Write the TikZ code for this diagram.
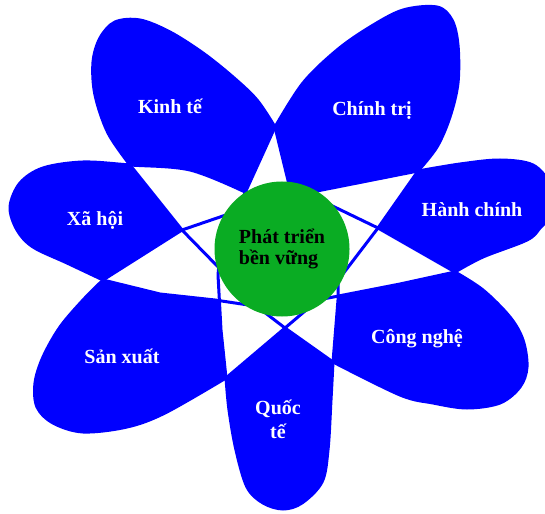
\documentclass[tikz,border=0pt]{standalone}
\usepackage{fontspec}
\setmainfont{Liberation Serif}
\definecolor{petalblue}{RGB}{0,0,255}
\definecolor{coregreen}{RGB}{10,172,35}

%% canh hoa: mui nhon nam trong vong tron giua, dau tron o ngoai
\def\petalkinhte{(305,290) -- (294,205) -- plot[smooth, tension=0.55] coordinates {(275,127) (257,100) (233,77) (203,53) (170,32) (140,20) (115,22) (100,38) (93,62) (95,95) (108,133) (130,165)} -- (182,230) -- (226,275) -- cycle}
\def\petalchinhtri{(275,295) -- (235,215) -- plot[smooth, tension=0.55] coordinates {(275,127) (303,83) (337,50) (370,27) (403,10) (437,7) (452,20) (458,45) (458,83) (450,117) (437,147) (418,171)} -- (378,228) -- (336,283) -- cycle}
\def\petalhanhchinh{(238,240) -- (292,196) -- (322,190) -- plot[smooth, tension=0.55] coordinates {(418,171) (460,164) (500,160) (533,165) (550,185) (552,212) (540,228) (527,240) (483,257) (455,272)} -- (400,284) -- (318,300) -- cycle}
\def\petalcongnghe{(248,215) -- (318,199) -- (378,228) -- plot[smooth, tension=0.55] coordinates {(455,272) (483,290) (510,317) (523,340) (527,367) (520,387) (500,403) (467,408) (433,403) (400,395) (333,362)} -- (285,328) -- (255,305) -- cycle}
\def\petalquocte{(282,200) -- (338,260) -- (338,300) -- plot[smooth, tension=0.55] coordinates {(333,362) (331,400) (328,450) (322,482) (302,503) (283,509) (263,503) (247,487) (236,450) (229,410) (226,378)} -- (221,330) -- (218,275) -- (222,230) -- cycle}
\def\petalsanxuat{(325,225) -- (240,210) -- (220,217) -- (182,230) -- plot[smooth, tension=0.55] coordinates {(103,280) (83,300) (60,327) (43,357) (35,383) (37,407) (53,423) (83,432) (127,427) (165,413) (226,378)} -- (285,328) -- (318,300) -- cycle}
\def\petalxahoi{(330,240) -- (262,200) -- plot[smooth, tension=0.55] coordinates {(245,192) (190,170) (130,165) (83,162) (43,168) (20,183) (10,207) (17,230) (33,247) (67,263) (103,280)} -- (160,294) -- (215,300) -- (255,306) -- cycle}

\begin{document}
\begin{tikzpicture}[
    x=0.5pt, y=-0.5pt,
    every node/.style={font=\fontsize{10}{12}\selectfont\bfseries},
    lbl/.style={text=white, align=center},
    petaledge/.style={draw=petalblue, line width=1.5pt, line join=round},
]
\useasboundingbox (0,0) rectangle (545,513);

%% canh hoa
\foreach \p in {kinhte,chinhtri,hanhchinh,congnghe,quocte,sanxuat,xahoi}
  \fill[petalblue] \csname petal\p\endcsname;

%% phan chong len nhau de trang
\foreach \p [count=\i] in {kinhte,chinhtri,hanhchinh,congnghe,quocte,sanxuat,xahoi}{
  \foreach \q [count=\j] in {kinhte,chinhtri,hanhchinh,congnghe,quocte,sanxuat,xahoi}{
    \ifnum\i<\j
      \begin{scope}
        \clip \csname petal\p\endcsname;
        \fill[white] \csname petal\q\endcsname;
      \end{scope}
    \fi
  }
}

%% duong vien
\foreach \p in {kinhte,chinhtri,hanhchinh,congnghe,quocte,sanxuat,xahoi}
  \path[petaledge] \csname petal\p\endcsname;

%% vong tron giua
\node[circle, fill=coregreen, minimum size=67.5pt, inner sep=0pt,
      align=left, font=\fontsize{10}{10.5}\selectfont\bfseries] (core) at (282,249) {Phát triển\\bền vững};

%% nhan
\node[lbl] (kinhte)    at (170,106) {Kinh tế};
\node[lbl] (chinhtri)  at (372,111) {Chính trị};
\node[lbl] (hanhchinh) at (472,210) {Hành chính};
\node[lbl] (xahoi)     at (95,220)  {Xã hội};
\node[lbl] (sanxuat)   at (122,356) {Sản xuất};
\node[lbl] (congnghe)  at (417,339) {Công nghệ};
\node[lbl] (quocte)    at (278,419) {Quốc\\tế};

\end{tikzpicture}
\end{document}
